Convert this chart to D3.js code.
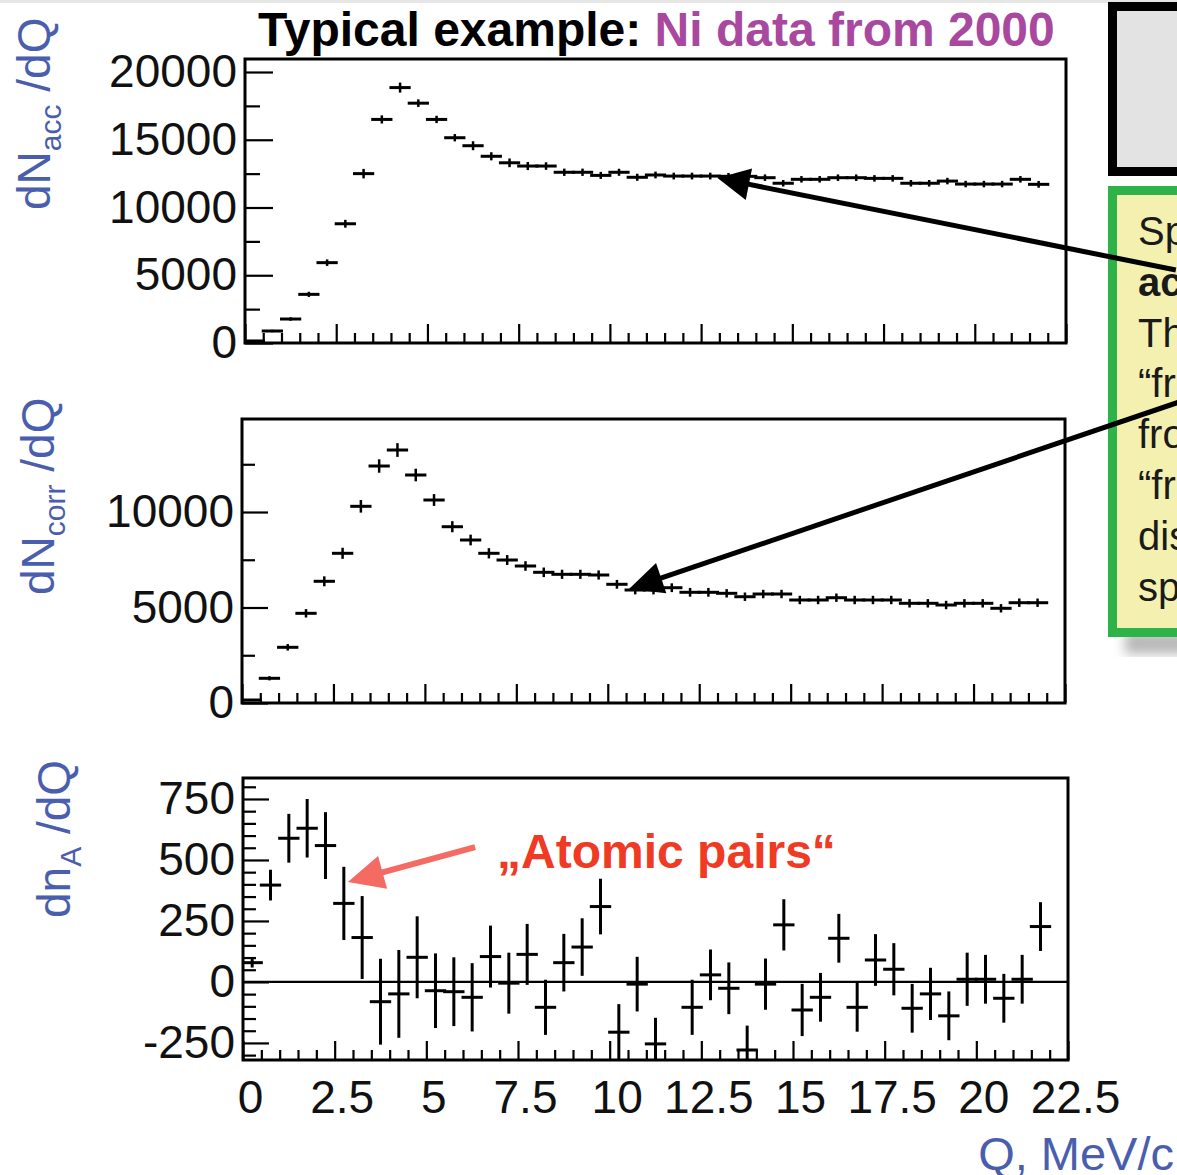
<!DOCTYPE html>
<html><head><meta charset="utf-8">
<script src="https://cdn.jsdelivr.net/npm/d3@7"></script>
<style>
body{margin:0;background:#fff}
svg{display:block}
text{font-family:"Liberation Sans",Arial,Helvetica,sans-serif}
</style>
</head><body>
<svg id="c" width="1177" height="1175"></svg>
<script>
// ---------------- DATA ----------------
const qCenters = [0.25,0.75,1.25,1.75,2.25,2.75,3.25,3.75,4.25,4.75,5.25,5.75,6.25,6.75,7.25,7.75,8.25,8.75,9.25,9.75,10.25,10.75,11.25,11.75,12.25,12.75,13.25,13.75,14.25,14.75,15.25,15.75,16.25,16.75,17.25,17.75,18.25,18.75,19.25,19.75,20.25,20.75,21.25,21.75];
const binWidth = 0.5;

const accCounts = [150,885,1770,3590,5930,8800,12500,16500,18850,17700,16500,15150,14560,13780,13300,13060,13060,12600,12600,12370,12600,12230,12400,12320,12320,12320,12300,12300,12200,11790,12080,12080,12200,12200,12150,12150,11790,11790,11950,11730,11730,11730,12080,11710];
const accErrors = [40,90,130,190,240,290,350,300,370,280,270,270,330,300,320,300,280,270,270,260,260,260,250,250,250,250,250,250,240,240,240,240,240,240,240,240,240,240,240,240,240,240,240,250];

const corrCounts = [157,1293,2916,4696,6372,7838,10298,12408,13246,11937,10628,9230,8534,7838,7487,7173,6843,6738,6738,6702,6215,5916,5916,6037,5796,5796,5743,5565,5707,5707,5393,5393,5513,5393,5393,5393,5220,5220,5131,5220,5220,4958,5251,5251];
const corrErrors = [40,110,170,220,260,290,330,350,360,330,310,290,280,270,260,250,250,240,240,240,230,230,230,230,230,230,220,220,220,220,220,220,220,220,220,220,220,220,220,220,220,220,220,220];

const atomicCounts = [79,397,589,630,559,322,182,-81,-49,101,-36,-40,-63,104,-5,113,-104,79,143,309,-206,-9,-254,-460,-104,29,-26,-279,-9,234,-115,-63,179,-104,90,52,-108,-49,-139,11,11,-67,11,227];
const atomicErrors = [20,63,100,120,137,150,170,176,180,168,153,141,140,127,125,125,113,118,118,114,115,112,107,100,113,104,106,100,105,105,107,100,100,100,106,107,100,107,100,109,100,100,100,100];

const xTickValues = [0,2.5,5,7.5,10,12.5,15,17.5,20,22.5];
const accTicks = [0,5000,10000,15000,20000];
const corrTicks = [0,5000,10000];
const atomicTicks = [-250,0,250,500,750];

const titleBlack = "Typical example: ";
const titlePurple = "Ni data from 2000";
const xTitle = "Q, MeV/c";
const annotText = "\u201EAtomic pairs\u201C";
const boxLines = ["Spectrum of the","accidental pairs","The","\u201Cfree\u201D pairs","from","\u201Cfree\u201D pairs","distribution","spectrum"];

// ---------------- STYLE ----------------
const BLUE = "#4a5eae", PURPLE = "#a8489f", RED = "#ef3a24", SALMON = "#f36b63";
const svg = d3.select("#c");
svg.append("rect").attr("x",0).attr("y",0).attr("width",1177).attr("height",3).attr("fill","#e6e6e6");

// ---------------- PANELS ----------------
const panels = [
  {id:"acc", xr:[245,1066], yr:[343,59], yd:[0,20960], counts:accCounts, errs:accErrors,
   major:accTicks, minor:d3.range(2500,20001,5000), majLen:28, minLen:15, xLabels:false},
  {id:"corr", xr:[242,1065], yr:[703,419], yd:[0,14870], counts:corrCounts, errs:corrErrors,
   major:corrTicks, minor:d3.range(2500,14001,5000), majLen:26, minLen:13, xLabels:false},
  {id:"atom", xr:[243,1068], yr:[1060,778], yd:[-320,836], counts:atomicCounts, errs:atomicErrors,
   major:atomicTicks, minor:d3.range(-300,801,50).filter(v=>v%250!==0), majLen:26, minLen:13, xLabels:true, zero:true}
];

const scales = {};
panels.forEach(p=>{
  const x = d3.scaleLinear().domain([0,22.5]).range(p.xr);
  const y = d3.scaleLinear().domain(p.yd).range(p.yr);
  scales[p.id] = {x,y};
  const g = svg.append("g");
  const clipId = "clip-"+p.id;
  svg.append("clipPath").attr("id",clipId).append("rect")
    .attr("x",p.xr[0]).attr("y",p.yr[1]).attr("width",p.xr[1]-p.xr[0]).attr("height",p.yr[0]-p.yr[1]);

  // y axis major
  const yMaj = g.append("g").attr("transform",`translate(${p.xr[0]},0)`)
    .call(d3.axisLeft(y).tickValues(p.major).tickSize(-p.majLen).tickPadding(8).tickFormat(d=>String(d)));
  const yMin = g.append("g").attr("transform",`translate(${p.xr[0]},0)`)
    .call(d3.axisLeft(y).tickValues(p.minor).tickSize(-p.minLen).tickFormat(""));
  // x axis
  const xMaj = g.append("g").attr("transform",`translate(0,${p.yr[0]})`)
    .call(d3.axisBottom(x).tickValues(xTickValues).tickSize(-19).tickPadding(20).tickFormat(p.xLabels? (d=>String(d)) : ""));
  const xMin = g.append("g").attr("transform",`translate(0,${p.yr[0]})`)
    .call(d3.axisBottom(x).tickValues(d3.range(0.5,22.5,0.5).filter(v=>v%2.5!==0)).tickSize(-10).tickFormat(""));
  [yMaj,yMin,xMaj,xMin].forEach(a=>{
    a.select(".domain").remove();
    a.selectAll(".tick line").attr("stroke","#000").attr("stroke-width",2.2);
    a.selectAll("text").attr("font-size",46).attr("fill","#111").style("font-family","'Liberation Sans',Arial,sans-serif");
  });
  xMaj.selectAll("text").attr("dx",7);

  if (p.zero) {
    g.append("line").attr("x1",p.xr[0]).attr("x2",p.xr[1]).attr("y1",y(0)).attr("y2",y(0))
      .attr("stroke","#000").attr("stroke-width",2.2);
  }

  // data marks
  const dg = g.append("g").attr("clip-path",`url(#${clipId})`);
  const pts = qCenters.map((q,i)=>({q, v:p.counts[i], e:p.errs[i]}));
  dg.selectAll("line.h").data(pts).join("line").attr("class","h")
    .attr("x1",d=>x(d.q-binWidth/2)).attr("x2",d=>x(d.q+binWidth/2))
    .attr("y1",d=>y(d.v)).attr("y2",d=>y(d.v))
    .attr("stroke","#000").attr("stroke-width",3).attr("stroke-linecap","square");
  dg.selectAll("line.v").data(pts).join("line").attr("class","v")
    .attr("x1",d=>x(d.q)).attr("x2",d=>x(d.q))
    .attr("y1",d=>y(d.v-d.e)).attr("y2",d=>y(d.v+d.e))
    .attr("stroke","#000").attr("stroke-width",p.zero?3:2.5);

  // frame
  g.append("rect").attr("x",p.xr[0]).attr("y",p.yr[1]).attr("width",p.xr[1]-p.xr[0]).attr("height",p.yr[0]-p.yr[1])
    .attr("fill","none").attr("stroke","#000").attr("stroke-width",3);
});

// ---------------- TITLES ----------------
const title = svg.append("text").attr("x",258).attr("y",46).attr("font-size",48).attr("font-weight","bold");
title.append("tspan").attr("fill","#000").text(titleBlack);
title.append("tspan").attr("fill",PURPLE).text(titlePurple);

svg.append("text").attr("x",1174).attr("y",1170).attr("text-anchor","end").attr("font-size",47)
  .attr("fill",BLUE).text(xTitle);

function yTitle(tx, ty, main, sub, rest){
  const t = svg.append("text").attr("transform",`translate(${tx},${ty}) rotate(-90)`)
    .attr("fill",BLUE).attr("font-size",46);
  t.append("tspan").text(main);
  t.append("tspan").attr("font-size",30).attr("dy",11).text(sub);
  t.append("tspan").attr("dy",-11).text(" /dQ");
}
yTitle(50,210,"dN","acc");
yTitle(54,595,"dN","corr");
yTitle(70,918,"dn","A");

// ---------------- ARROWS ----------------
function arrow(sc, tipQ, tipV, tailQ, tailV, color, lw, hl, hw){
  const tx = sc.x(tipQ), ty = sc.y(tipV), sx = sc.x(tailQ), sy = sc.y(tailV);
  const dx = sx-tx, dy = sy-ty, L = Math.hypot(dx,dy), ux = dx/L, uy = dy/L;
  const bx = tx+ux*hl, by = ty+uy*hl;
  svg.append("line").attr("x1",sx).attr("y1",sy).attr("x2",bx-ux*2).attr("y2",by-uy*2)
    .attr("stroke",color).attr("stroke-width",lw);
  svg.append("path").attr("d",`M${tx},${ty}L${bx-uy*hw},${by+ux*hw}L${bx+uy*hw},${by-ux*hw}Z`).attr("fill",color);
}

// ---------------- RIGHT BOXES ----------------
svg.append("rect").attr("x",1112.5).attr("y",6.5).attr("width",120).attr("height",165)
  .attr("fill","#e3e3e3").attr("stroke","#000").attr("stroke-width",9);
const defs = svg.append("defs");
defs.append("filter").attr("id","blur").append("feGaussianBlur").attr("stdDeviation",6);
svg.append("rect").attr("x",1125).attr("y",632).attr("width",120).attr("height",22)
  .attr("fill","#b8b8b8").attr("filter","url(#blur)");
svg.append("rect").attr("x",1112.5).attr("y",190.5).attr("width",120).attr("height",442)
  .attr("fill","#f4f1b0").attr("stroke","#2db34a").attr("stroke-width",9);
boxLines.forEach((s,i)=>{
  svg.append("text").attr("x",1138).attr("y",245+i*50.8).attr("font-size",40)
    .attr("font-weight", i===1?"bold":"normal").attr("fill","#1a1a1a").text(s);
});

arrow(scales.acc, 12.95, 12177, 25.51, 5387, "#000", 5, 32, 16);
arrow(scales.corr, 10.58, 5969, 25.62, 15759, "#000", 5, 34, 16);
arrow(scales.atom, 2.86, 410, 6.33, 553, SALMON, 6, 36, 17);

svg.append("text").attr("x",scales.atom.x(6.93)).attr("y",scales.atom.y(467)).attr("font-size",48)
  .attr("font-weight","bold").attr("fill",RED).text(annotText);
</script>
</body></html>
